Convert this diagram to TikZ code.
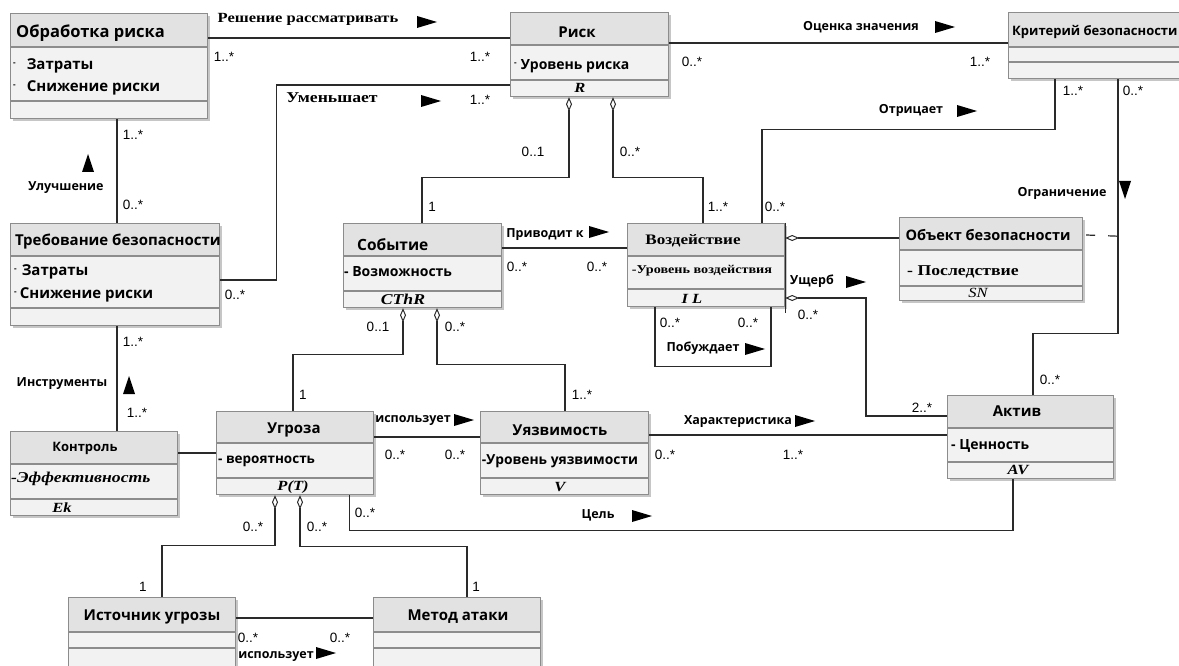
\documentclass[tikz,border=0pt]{standalone}
\usepackage{fontspec}
\setmainfont{Open Sans}
\newfontfamily\serif{Liberation Serif}
\newfontfamily\serifw[FakeStretch=1.18]{Liberation Serif}
\newfontfamily\labf{Liberation Sans}
\usetikzlibrary{arrows.meta,calc}
\definecolor{boxline}{HTML}{8C8C8C}
\definecolor{headfill}{HTML}{E2E2E2}
\definecolor{bodyfill}{HTML}{F2F2F2}
\definecolor{shadec}{HTML}{C6C6C6}
\definecolor{lineC}{HTML}{2A2A2A}
\newcommand\adash[1]{\raisebox{0.3em}{\fontsize{8}{8}\selectfont-}\hspace{#1}}
\newcommand\umlbox[7]{%
  \fill[shadec] ({#2+3},{#3+3}) rectangle ({#4+3},{#5+3});
  \fill[bodyfill] (#2,#3) rectangle (#4,#5);
  \fill[headfill] (#2,#3) rectangle (#4,#6);
  \draw[boxline, line width=1.2pt] (#2,#6) -- (#4,#6) (#2,#7) -- (#4,#7);
  \node[draw=boxline, line width=1.2pt, inner sep=0, anchor=north west,
        minimum width={(#4)-(#2)}, minimum height={(#5)-(#3)}] (#1) at (#2,#3) {};}
\newcommand\rtri[2]{\fill[black] ({#1-10},{#2-6}) -- ({#1+10},{#2}) -- ({#1-10},{#2+6}) -- cycle;}
\newcommand\utri[2]{\fill[black] ({#1-6},{#2+9}) -- ({#1},{#2-9}) -- ({#1+6},{#2+9}) -- cycle;}
\newcommand\dtri[2]{\fill[black] ({#1-6},{#2-9}) -- ({#1},{#2+9}) -- ({#1+6},{#2-9}) -- cycle;}
\tikzset{
  cname/.style={font=\fontsize{15}{17}\selectfont\bfseries, inner sep=0},
  attr/.style={font=\fontsize{14}{16}\selectfont\bfseries, inner sep=0, anchor=west},
  sattr/.style={font=\serifw\fontsize{14}{16}\selectfont\bfseries, inner sep=0},
  oper/.style={font=\serifw\fontsize{14}{16}\selectfont\bfseries\itshape, inner sep=0},
  alab/.style={font=\fontsize{12.5}{14}\selectfont\bfseries, inner sep=0},
  slab/.style={font=\serifw\fontsize{14}{16}\selectfont\bfseries, inner sep=0},
  mult/.style={font=\labf\fontsize{13.5}{15}\selectfont, inner sep=0},
  wire/.style={draw=lineC, line width=1.2pt},
  agg/.style={wire, {Diamond[open,length=14pt,width=6pt,line width=1pt]}-},
}
\begin{document}
\begin{tikzpicture}[x=1pt,y=-1pt]
\useasboundingbox (0,0) rectangle (1179,666);
\clip (0,0) rectangle (1179,666);
\fill[white] (0,0) rectangle (1179,666);

% classes
\umlbox{obr}{10}{13}{207}{118}{47}{101}
\umlbox{risk}{510}{12}{668}{96}{45}{80}
\umlbox{krit}{1008}{12}{1200}{78}{47}{62}
\umlbox{treb}{10}{223}{219}{325}{256}{308}
\umlbox{ev}{343}{223}{501}{307}{256}{291}
\umlbox{imp}{627}{223}{784}{306}{256}{289}
\umlbox{obj}{899}{217}{1082}{300}{250}{286}
\umlbox{akt}{947}{395}{1113}{478}{428}{462}
\umlbox{thr}{216}{411}{373}{494}{443}{478}
\umlbox{ctl}{10}{431}{177}{515}{464}{499}
\umlbox{vul}{480}{411}{648}{494}{443}{478}
\umlbox{src}{68}{597}{235}{670}{632}{648}
\umlbox{meth}{373}{597}{540}{670}{632}{648}
\draw[wire] (imp.north east) -- ($(imp.south east)+(0,6)$);

% class texts
\node[cname, anchor=west, font=\fontsize{16.5}{18}\selectfont\bfseries] (n1) at (16,33) {Обработка риска};
\node[attr, font=\fontsize{15}{17}\selectfont\bfseries] (n1a) at (13,66) {\adash{11pt}Затраты};
\node[attr, font=\fontsize{15}{17}\selectfont\bfseries] (n1b) at (13,88) {\adash{11pt}Снижение риски};
\node[cname] (n2) at (577,32) {Риск};
\node[attr] (n2a) at (514,66) {\adash{4pt}Уровень риска};
\node[oper] (n2b) at (580,88) {R};
\node[cname, anchor=west, font=\fontsize{13}{15}\selectfont\bfseries] (n3) at (1012,32) {Критерий безопасности};
\node[cname, anchor=west] (n4) at (15,242) {Требование безопасности};
\node[attr, font=\fontsize{15}{17}\selectfont\bfseries] (n4a) at (14,272) {\adash{5pt}Затраты};
\node[attr, font=\fontsize{15}{17}\selectfont\bfseries] (n4b) at (14,295) {\adash{3pt}Снижение риски};
\node[cname, anchor=west, font=\fontsize{15.5}{17}\selectfont\bfseries] (n5) at (357,245) {Событие};
\node[attr] (n5a) at (344,272) {- Возможность};
\node[oper, font=\serifw\fontsize{15}{17}\selectfont\bfseries\itshape] (n5b) at (403,299) {CThR};
\node[sattr, font=\serifw\fontsize{14.5}{16}\selectfont\bfseries] (n6) at (693,241) {Воздействие};
\node[sattr, font=\serifw\fontsize{12}{14}\selectfont\bfseries] (n6a) at (702,271) {-Уровень воздействия};
\node[oper] (n6b) at (692,299) {I L};
\node[cname, font=\fontsize{14.5}{16}\selectfont\bfseries] (n7) at (988,235) {Объект безопасности};
\node[sattr, anchor=west, font=\serifw\fontsize{15}{17}\selectfont\bfseries] (n7a) at (907,272) {- Последствие};
\node[oper, font=\serifw\fontsize{14}{16}\selectfont\itshape] (n7b) at (978,293) {SN};
\node[cname] (n8) at (1017,411) {Актив};
\node[attr] (n8a) at (951,446) {- Ценность};
\node[oper] (n8b) at (1018,470) {AV};
\node[cname] (n9) at (294,430) {Угроза};
\node[attr, font=\fontsize{13.5}{15}\selectfont\bfseries] (n9a) at (218,461) {- вероятность};
\node[oper] (n9b) at (293,487) {P(T)};
\node[cname] (n10) at (560,430) {Уязвимость};
\node[attr, anchor=center, font=\fontsize{13.8}{15}\selectfont\bfseries] (n10a) at (560,461) {-Уровень уязвимости};
\node[oper] (n10b) at (560,487) {V};
\node[cname, font=\fontsize{13}{15}\selectfont\bfseries] (n11) at (85,448) {Контроль};
\node[oper, anchor=west, font=\serifw\fontsize{15}{17}\selectfont\bfseries\itshape] (n11a) at (11,479) {-Эффективность};
\node[oper] (n11b) at (62,508) {Ek};
\node[cname] (n12) at (152,617) {Источник угрозы};
\node[cname] (n13) at (458,617) {Метод атаки};

% connectors
\draw[wire] ($(obr.north east)+(0,25)$) -- ($(risk.north west)+(0,26)$);
\draw[wire] ($(risk.north east)+(0,31)$) -- ($(krit.north west)+(0,31)$);
\draw[wire] ($(risk.north west)+(0,73)$) -| ($(treb.north east)+(56,57)$) -- ($(treb.north east)+(0,57)$);
\draw[wire] ($(obr.south west)+(107,0)$) -- ($(treb.north west)+(107,0)$);
\draw[wire] ($(treb.south west)+(107,0)$) -- ($(ctl.north west)+(107,0)$);
\draw[wire] ($(ctl.north east)+(0,22)$) -- ($(thr.north west)+(0,42)$);
\draw[agg] ($(risk.south west)+(59,0)$) -- ++(0,80) -| ($(ev.north west)+(79,0)$);
\draw[agg] ($(risk.south west)+(103,0)$) -- ++(0,80) -| ($(imp.north west)+(76,0)$);
\draw[wire] ($(imp.north west)+(135,0)$) |- ($(krit.south west)+(47,50)$) -- ($(krit.south west)+(47,0)$);
\draw[wire] ($(krit.south west)+(110,0)$) -- ++(0,254) -| ($(akt.north west)+(86,0)$);
\coordinate (kv) at ($(krit.south west)+(110,157)$);
\draw[wire, dash pattern=on 9pt off 13pt] ($(obj.north east)+(3,18)$) -- (kv);
\draw[agg] ($(imp.north east)+(0,15)$) -- ($(obj.north west)+(0,21)$);
\draw[agg] ($(imp.north east)+(0,75)$) -| ($(akt.north west)+(-81,21)$) -- ($(akt.north west)+(0,21)$);
\draw[wire] ($(ev.north east)+(0,25)$) -- ($(imp.north west)+(0,25)$);
\draw[wire] ($(imp.south west)+(28,0)$) -- ++(0,59) -| ($(imp.south west)+(144,0)$);
\draw[agg] ($(ev.south west)+(60,0)$) -- ++(0,46) -| ($(thr.north west)+(77,0)$);
\draw[agg] ($(ev.south west)+(94,0)$) -- ++(0,56) -| ($(vul.north west)+(85,0)$);
\draw[wire] ($(thr.north east)+(0,26)$) -- ($(vul.north west)+(0,26)$);
\draw[wire] ($(vul.north east)+(0,24)$) -- ($(akt.north west)+(0,40)$);
\draw[wire] ($(thr.south east)+(-25,0)$) |- ($(akt.south west)+(66,51)$) -- ($(akt.south west)+(66,0)$);
\draw[agg] ($(thr.south west)+(59,0)$) -- ++(0,50) -| ($(src.north west)+(94,0)$);
\draw[agg] ($(thr.south west)+(84,0)$) -- ++(0,51) -| ($(meth.north west)+(94,0)$);
\draw[wire] ($(src.north east)+(0,21)$) -- ($(meth.north west)+(0,21)$);

% association labels
\node[slab] (l1) at (308,19) {Решение рассматривать};
\node[slab, font=\serifw\fontsize{15}{17}\selectfont\bfseries] (l2) at (332,98) {Уменьшает};
\node[alab] (l3) at (861,27) {Оценка значения};
\node[alab] (l4) at (911,110) {Отрицает};
\node[alab] (l5) at (1062,193) {Ограничение};
\node[alab] (l6) at (66,188) {Улучшение};
\node[alab] (l7) at (62,384) {Инструменты};
\node[alab] (l8) at (545,235) {Приводит к};
\node[alab] (l9) at (703,348) {Побуждает};
\node[alab] (l10) at (812,281) {Ущерб};
\node[alab] (l11) at (413,421) {использует};
\node[alab] (l12) at (738,422) {Характеристика};
\node[alab] (l13) at (598,515) {Цель};
\node[alab] (l14) at (276,657) {использует};

\rtri{427}{22} \rtri{431}{101} \rtri{945}{27} \rtri{967}{111}
\rtri{599}{232} \rtri{755}{349} \rtri{856}{282} \rtri{464}{420}
\rtri{805}{421} \rtri{642}{516} \rtri{326}{653}
\utri{88}{163} \utri{129}{385} \dtri{1125}{190}

% multiplicities
\node[mult] (m1) at (224,57) {1..*};
\node[mult] (m2) at (480,57) {1..*};
\node[mult] (m3) at (480,100) {1..*};
\node[mult] (m4) at (692,62) {0..*};
\node[mult] (m5) at (980,62) {1..*};
\node[mult] (m6) at (1073,91) {1..*};
\node[mult] (m7) at (1133,91) {0..*};
\node[mult] (m8) at (133,135) {1..*};
\node[mult] (m9) at (133,205) {0..*};
\node[mult] (m10) at (235,295) {0..*};
\node[mult] (m11) at (133,342) {1..*};
\node[mult] (m12) at (137,413) {1..*};
\node[mult] (m13) at (533,152) {0..1};
\node[mult] (m14) at (630,152) {0..*};
\node[mult] (m15) at (432,207) {1};
\node[mult] (m16) at (718,207) {1..*};
\node[mult] (m17) at (775,207) {0..*};
\node[mult] (m18) at (517,267) {0..*};
\node[mult] (m19) at (597,267) {0..*};
\node[mult] (m20) at (670,323) {0..*};
\node[mult] (m21) at (748,323) {0..*};
\node[mult] (m22) at (808,315) {0..*};
\node[mult] (m23) at (378,327) {0..1};
\node[mult] (m24) at (455,327) {0..*};
\node[mult] (m25) at (303,395) {1};
\node[mult] (m26) at (582,395) {1..*};
\node[mult] (m27) at (1050,380) {0..*};
\node[mult] (m28) at (922,408) {2..*};
\node[mult] (m29) at (395,455) {0..*};
\node[mult] (m30) at (455,455) {0..*};
\node[mult] (m31) at (665,455) {0..*};
\node[mult] (m32) at (793,455) {1..*};
\node[mult] (m33) at (365,513) {0..*};
\node[mult] (m34) at (253,527) {0..*};
\node[mult] (m35) at (317,527) {0..*};
\node[mult] (m36) at (143,587) {1};
\node[mult] (m37) at (476,587) {1};
\node[mult] (m38) at (248,638) {0..*};
\node[mult] (m39) at (340,638) {0..*};
\end{tikzpicture}
\end{document}
